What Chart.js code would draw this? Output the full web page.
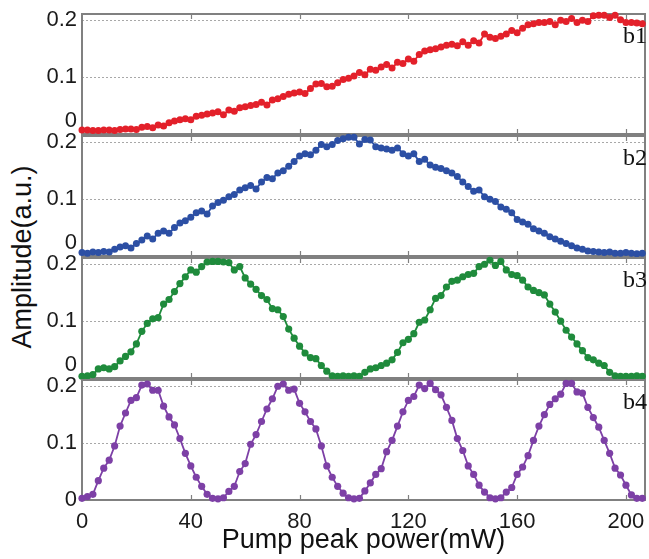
<!DOCTYPE html>
<html>
<head>
<meta charset="utf-8">
<script src="https://cdn.jsdelivr.net/npm/chart.js@4/dist/chart.umd.min.js"></script>
<style>
  body { margin: 0; background: #fff; }
  #wrap { position: relative; width: 649px; height: 559px; overflow: hidden; background: #fff; }
  #wrap canvas { position: absolute; left: 0; }
  #ytitle {
    position: absolute; left: 22px; top: 257px;
    transform: translate(-50%, -50%) rotate(-90deg);
    font: 27px "Liberation Sans", Arial, sans-serif; color: #111; white-space: nowrap;
  }
</style>
</head>
<body>
<div id="wrap">
  <div id="ytitle">Amplitude(a.u.)</div>
</div>
<script>
// pump peak power (mW)
const power = [
  0, 2, 4, 6, 8, 10, 12, 14, 16, 18,
  20, 22, 24, 26, 28, 30, 32, 34, 36, 38,
  40, 42, 44, 46, 48, 50, 52, 54, 56, 58,
  60, 62, 64, 66, 68, 70, 72, 74, 76, 78,
  80, 82, 84, 86, 88, 90, 92, 94, 96, 98,
  100, 102, 104, 106, 108, 110, 112, 114, 116, 118,
  120, 122, 124, 126, 128, 130, 132, 134, 136, 138,
  140, 142, 144, 146, 148, 150, 152, 154, 156, 158,
  160, 162, 164, 166, 168, 170, 172, 174, 176, 178,
  180, 182, 184, 186, 188, 190, 192, 194, 196, 198,
  200, 202, 204, 206
];

const b1 = [
  0.007, 0.007, 0.006, 0.006, 0.007, 0.007, 0.006, 0.008, 0.009, 0.009,
  0.008, 0.012, 0.013, 0.011, 0.016, 0.014, 0.020, 0.023, 0.025, 0.027,
  0.025, 0.031, 0.033, 0.035, 0.037, 0.039, 0.034, 0.042, 0.040, 0.046,
  0.048, 0.050, 0.052, 0.056, 0.051, 0.060, 0.062, 0.066, 0.070, 0.072,
  0.074, 0.071, 0.080, 0.088, 0.089, 0.083, 0.084, 0.090, 0.096, 0.098,
  0.102, 0.108, 0.104, 0.114, 0.112, 0.118, 0.122, 0.116, 0.126, 0.124,
  0.132, 0.128, 0.140, 0.146, 0.148, 0.150, 0.153, 0.156, 0.158, 0.155,
  0.162, 0.156, 0.164, 0.160, 0.176, 0.170, 0.168, 0.172, 0.176, 0.182,
  0.178, 0.186, 0.192, 0.194, 0.196, 0.196, 0.198, 0.192, 0.200, 0.198,
  0.203, 0.196, 0.200, 0.198, 0.208, 0.209, 0.209, 0.205, 0.209, 0.201,
  0.196, 0.196, 0.195, 0.194
];

const b2 = [
  0.006, 0.005, 0.007, 0.006, 0.008, 0.007, 0.012, 0.016, 0.018, 0.014,
  0.022, 0.028, 0.035, 0.030, 0.040, 0.044, 0.040, 0.050, 0.058, 0.062,
  0.068, 0.076, 0.079, 0.074, 0.088, 0.094, 0.098, 0.104, 0.108, 0.116,
  0.120, 0.124, 0.118, 0.130, 0.138, 0.136, 0.146, 0.150, 0.158, 0.166,
  0.176, 0.180, 0.178, 0.186, 0.196, 0.192, 0.196, 0.203, 0.206, 0.209,
  0.209, 0.197, 0.205, 0.204, 0.192, 0.190, 0.188, 0.186, 0.190, 0.180,
  0.176, 0.180, 0.166, 0.170, 0.160, 0.156, 0.154, 0.150, 0.146, 0.140,
  0.130, 0.122, 0.114, 0.116, 0.104, 0.100, 0.096, 0.086, 0.082, 0.076,
  0.064, 0.060, 0.056, 0.048, 0.044, 0.040, 0.034, 0.030, 0.026, 0.022,
  0.018, 0.014, 0.012, 0.009, 0.008, 0.007, 0.006, 0.007, 0.005, 0.005,
  0.006, 0.005, 0.004, 0.005
];

const b3 = [
  0.003, 0.004, 0.006, 0.016, 0.018, 0.016, 0.020, 0.030, 0.038, 0.046,
  0.060, 0.082, 0.096, 0.104, 0.106, 0.130, 0.138, 0.152, 0.166, 0.178,
  0.190, 0.186, 0.196, 0.204, 0.205, 0.205, 0.204, 0.203, 0.190, 0.196,
  0.176, 0.165, 0.156, 0.145, 0.138, 0.122, 0.120, 0.108, 0.086, 0.070,
  0.056, 0.044, 0.036, 0.034, 0.022, 0.012, 0.004, 0.003, 0.004, 0.003,
  0.004, 0.003, 0.010, 0.016, 0.018, 0.022, 0.026, 0.032, 0.045, 0.062,
  0.068, 0.078, 0.098, 0.102, 0.120, 0.140, 0.145, 0.160, 0.170, 0.172,
  0.178, 0.182, 0.184, 0.196, 0.200, 0.207, 0.198, 0.205, 0.190, 0.182,
  0.180, 0.172, 0.160, 0.154, 0.150, 0.146, 0.130, 0.116, 0.100, 0.084,
  0.072, 0.060, 0.048, 0.036, 0.032, 0.026, 0.022, 0.010, 0.004, 0.003,
  0.003, 0.003, 0.004, 0.003
];

const b4 = [
  0.003, 0.006, 0.010, 0.034, 0.056, 0.070, 0.095, 0.130, 0.153, 0.175,
  0.180, 0.202, 0.204, 0.193, 0.193, 0.165, 0.146, 0.132, 0.108, 0.082,
  0.060, 0.040, 0.024, 0.010, 0.003, 0.002, 0.004, 0.015, 0.024, 0.050,
  0.064, 0.098, 0.115, 0.138, 0.160, 0.178, 0.200, 0.204, 0.193, 0.195,
  0.170, 0.155, 0.138, 0.125, 0.095, 0.060, 0.040, 0.024, 0.012, 0.004,
  0.002, 0.003, 0.016, 0.030, 0.045, 0.055, 0.085, 0.105, 0.130, 0.155,
  0.175, 0.182, 0.202, 0.196, 0.205, 0.194, 0.185, 0.163, 0.140, 0.108,
  0.087, 0.060, 0.045, 0.026, 0.014, 0.004, 0.002, 0.004, 0.014, 0.022,
  0.045, 0.058, 0.078, 0.105, 0.130, 0.150, 0.168, 0.178, 0.186, 0.205,
  0.205, 0.190, 0.188, 0.163, 0.145, 0.128, 0.105, 0.082, 0.056, 0.044,
  0.026, 0.009, 0.003, 0.003
];

const panelNames = ['b1', 'b2', 'b3', 'b4'];
const panelSeries = [b1, b2, b3, b4];
const panelColors = ['#e3202a', '#2c4fa4', '#1f8b3c', '#7d40a6'];
const panelDots = [3.5, 3.5, 3.6, 3.6];
const xTicks = [0, 40, 80, 120, 160, 200];
const yTicks = [0, 0.1, 0.2];

// layout: top of each plot box in page px, every box 120 px high
const areaTops = [14, 136, 258, 380];
const tickFont = { family: '"Liberation Sans", Arial, sans-serif', size: 22 };

const panelFrame = {
  id: 'panelFrame',
  beforeDatasetsDraw(chart, args, opts) {
    const ctx = chart.ctx;
    const a = chart.chartArea;
    const x = chart.scales.x;
    ctx.save();
    ctx.strokeStyle = '#808080';
    ctx.lineWidth = 2;
    ctx.strokeRect(a.left, a.top, a.right - a.left, a.bottom - a.top);
    ctx.lineWidth = 1.2;
    ctx.beginPath();
    xTicks.forEach(function (v) {
      if (v === 0) return;
      const px = Math.round(x.getPixelForValue(v)) + 0.5;
      ctx.moveTo(px, a.top);
      ctx.lineTo(px, a.top + 5);
      ctx.moveTo(px, a.bottom);
      ctx.lineTo(px, a.bottom - 5);
    });
    ctx.stroke();
    ctx.fillStyle = '#111';
    ctx.font = '24px "Liberation Serif", "Times New Roman", serif';
    ctx.textAlign = 'right';
    ctx.textBaseline = 'alphabetic';
    ctx.fillText(opts.name, a.right + 2, a.top + 29);
    ctx.restore();
  }
};

const wrap = document.getElementById('wrap');

function makePanel(i) {
  const last = i === panelNames.length - 1;
  const canvas = document.createElement('canvas');
  canvas.width = 649;
  canvas.height = last ? 191 : 144;
  canvas.style.top = (areaTops[i] - 12) + 'px';
  wrap.appendChild(canvas);

  const values = panelSeries[i];
  new Chart(canvas, {
    type: 'line',
    data: {
      datasets: [{
        data: power.map(function (p, k) { return { x: p, y: values[k] }; }),
        borderColor: panelColors[i],
        backgroundColor: panelColors[i],
        borderWidth: 1.8,
        pointRadius: panelDots[i],
        pointBorderWidth: 0,
        tension: 0,
        clip: false
      }]
    },
    options: {
      responsive: false,
      animation: false,
      events: [],
      layout: { padding: { top: 12, bottom: last ? 0 : 12, left: 0, right: 4 } },
      plugins: {
        legend: { display: false },
        tooltip: { enabled: false },
        panelFrame: { name: panelNames[i] }
      },
      scales: {
        x: {
          type: 'linear',
          min: 0,
          max: 207,
          afterBuildTicks: function (s) { s.ticks = xTicks.map(function (v) { return { value: v }; }); },
          afterFit: function (s) { s.height = last ? 59 : 0; },
          grid: { display: false },
          border: { display: false },
          ticks: { display: last, padding: 1, font: tickFont, color: '#1a1a1a', maxRotation: 0, autoSkip: false },
          title: {
            display: last,
            text: 'Pump peak power(mW)',
            font: { family: '"Liberation Sans", Arial, sans-serif', size: 27 },
            color: '#111',
            padding: { top: 0, bottom: 2 }
          }
        },
        y: {
          min: 0,
          max: 0.211,
          afterBuildTicks: function (s) { s.ticks = yTicks.map(function (v) { return { value: v }; }); },
          afterFit: function (s) {
            s.width = 82;
            s.paddingTop = 0;
            s.paddingBottom = 0;
          },
          grid: {
            drawTicks: false,
            lineWidth: 1,
            color: function (c) { return c.tick && c.tick.value === 0 ? 'rgba(0,0,0,0)' : '#a8a8a8'; }
          },
          border: { display: false, dash: [2, 2] },
          ticks: {
            padding: 5,
            autoSkip: false,
            font: tickFont,
            color: '#1a1a1a',
            callback: function (v) {
              if (v === 0) return last ? '0' : ['0', ''];
              return String(v);
            }
          }
        }
      }
    },
    plugins: [panelFrame]
  });
}

for (let i = 0; i < panelNames.length; i++) makePanel(i);
</script>
</body>
</html>
